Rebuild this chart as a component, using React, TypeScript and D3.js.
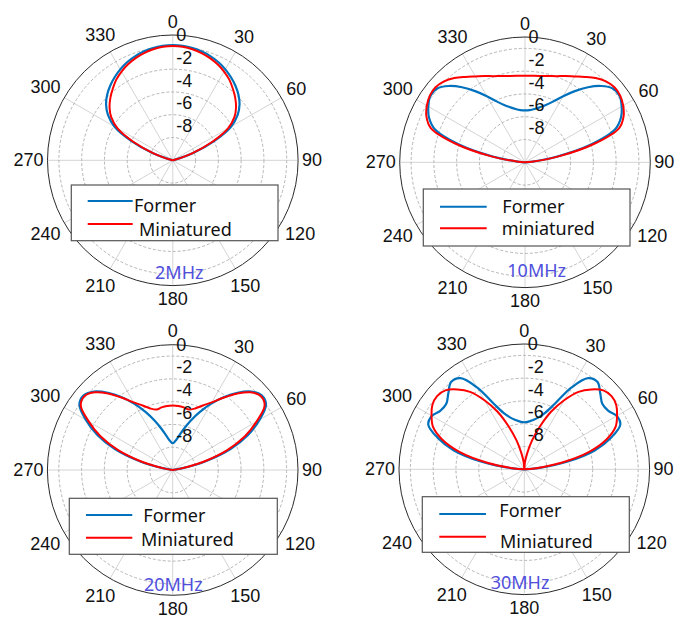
import React from 'react';
import * as d3 from 'd3';

// angle grid (degrees, 0 = top, clockwise)
const ANGLES = [-90, -85, -80, -75, -70, -65, -60, -55, -50, -45, -40, -35, -30, -25, -20, -15, -10, -5, 0,
  5, 10, 15, 20, 25, 30, 35, 40, 45, 50, 55, 60, 65, 70, 75, 80, 85, 90];

// dB values
const FORMER_2MHZ = [-11, -11, -11, -10.7, -9.1, -7.0, -5.1, -4.05, -3.35, -2.85, -2.45, -2.1, -1.78, -1.5, -1.29, -1.12, -0.99, -0.91, -0.88,
  -0.91, -0.99, -1.12, -1.29, -1.5, -1.78, -2.1, -2.45, -2.85, -3.35, -4.05, -5.1, -7.0, -9.1, -10.7, -11, -11, -11];
const MINI_2MHZ = [-11, -11, -11, -10.75, -9.2, -7.2, -5.4, -4.4, -3.75, -3.25, -2.8, -2.35, -2.0, -1.7, -1.45, -1.25, -1.1, -1.0, -0.97,
  -1.0, -1.1, -1.25, -1.45, -1.7, -2.0, -2.35, -2.8, -3.25, -3.75, -4.4, -5.4, -7.2, -9.2, -10.75, -11, -11, -11];

const FORMER_10MHZ = [-11, -10.5, -8.2, -5.0, -2.6, -1.7, -1.2, -0.85, -0.93, -1.53, -2.4, -3.37, -4.3, -5.1, -5.65, -6.0, -6.25, -6.4, -6.45,
  -6.4, -6.25, -6.0, -5.65, -5.1, -4.3, -3.37, -2.4, -1.53, -0.93, -0.85, -1.2, -1.7, -2.6, -5.0, -8.2, -10.5, -11];
const MINI_10MHZ = [-11, -10.4, -8.0, -4.7, -2.2, -1.45, -1.05, -0.8, -0.75, -0.95, -1.35, -1.85, -2.3, -2.65, -2.95, -3.15, -3.3, -3.38, -3.4,
  -3.38, -3.3, -3.15, -2.95, -2.65, -2.3, -1.85, -1.35, -0.95, -0.75, -0.8, -1.05, -1.45, -2.2, -4.7, -8.0, -10.4, -11];

const FORMER_20MHZ = [-11, -11, -10.2, -8.0, -5.6, -3.7, -2.2, -1.0, -0.8, -1.25, -2.15, -3.2, -4.3, -5.4, -6.4, -7.3, -8.0, -8.45, -8.65,
  -8.45, -8.0, -7.3, -6.4, -5.4, -4.3, -3.2, -2.15, -1.25, -0.8, -1.0, -2.2, -3.7, -5.6, -8.0, -10.2, -11, -11];
const MINI_20MHZ = [-11, -11, -10.3, -8.2, -5.9, -4.0, -2.5, -1.15, -0.9, -1.35, -2.25, -3.25, -4.15, -4.75, -5.25, -5.5, -5.42, -5.36, -5.34,
  -5.36, -5.42, -5.5, -5.25, -4.75, -4.15, -3.25, -2.25, -1.35, -0.9, -1.15, -2.5, -4.0, -5.9, -8.2, -10.3, -11, -11];

const FORMER_30MHZ = [-11, -9.8, -7.2, -4.6, -2.9, -1.7, -1.62, -2.02, -2.06, -1.57, -1.0, -1.23, -2.7, -4.65, -5.75, -6.3, -6.6, -6.8, -6.87,
  -6.8, -6.6, -6.3, -5.75, -4.65, -2.7, -1.23, -1.0, -1.57, -2.06, -2.02, -1.62, -1.7, -2.9, -4.6, -7.2, -9.8, -11];
const MINI_30MHZ = [-11, -10.1, -7.7, -5.1, -3.3, -2.15, -1.6, -1.15, -1.0, -1.2, -1.85, -2.7, -4.0, -5.4, -7.0, -8.4, -9.6, -10.4, -11,
  -10.4, -9.6, -8.4, -7.0, -5.4, -4.0, -2.7, -1.85, -1.2, -1.0, -1.15, -1.6, -2.15, -3.3, -5.1, -7.7, -10.1, -11];

const FREQS = ['2MHz', '10MHz', '20MHz', '30MHz'];
const FORMER_NAMES = ['Former', 'Former', 'Former', 'Former'];
const MINI_NAMES = ['Miniatured', 'miniatured', 'Miniatured', 'Miniatured'];

const R_TICKS = [-8, -6, -4, -2, 0];
const R_GRID = [-9, -7, -5, -3, -1];
const THETA_TICKS = [0, 30, 60, 90, 120, 150, 180, 210, 240, 270, 300, 330];
const R_DOMAIN = [-11, 0];

const FORMER = [FORMER_2MHZ, FORMER_10MHZ, FORMER_20MHZ, FORMER_30MHZ];
const MINI = [MINI_2MHZ, MINI_10MHZ, MINI_20MHZ, MINI_30MHZ];

// layout of each panel (pixels)
const LAYOUT = [
  { cx: 172.8, cy: 160.3, box: [71.3, 185, 206.7, 55.7], lineX: [87.7, 132.7], ly: [201, 224], tx: [134, 139], ty: [205, 228.7], fx: 179.3, fy: 271.7 },
  { cx: 525, cy: 162.3, box: [423.3, 189, 206.7, 57], lineX: [440, 486.7], ly: [206.7, 228.3], tx: [502.3, 501.7], ty: [205.7, 228.3], fx: 536.7, fy: 270 },
  { cx: 172.7, cy: 470, box: [69.3, 498.3, 208, 56], lineX: [86, 132.3], ly: [515, 537.7], tx: [143.3, 141], ty: [514.7, 538.7], fx: 173.3, fy: 584 },
  { cx: 524.3, cy: 469.3, box: [422.3, 496.7, 207, 55.6], lineX: [439.3, 486], ly: [514, 536.7], tx: [499.3, 500], ty: [510, 541], fx: 520, fy: 582.3 },
];

const R = 125.3;
const BLUE = '#0072BD';
const RED = '#FF0000';
const AXIS_FONT = "'Liberation Sans', Arial, sans-serif";
const TEXT_FONT = "'Noto Sans', 'Open Sans', sans-serif";

function PolarPanel({ idx }: { idx: number }) {
  const L = LAYOUT[idx];
  const rScale = d3.scaleLinear().domain(R_DOMAIN).range([0, R]).clamp(true);
  const toRad = (d: number) => (d * Math.PI) / 180;

  const line = d3.lineRadial<number>()
    .angle((d, i) => toRad(ANGLES[i]))
    .radius(d => rScale(d))
    .curve(d3.curveCatmullRom.alpha(0.5));

  const fs = 18;
  // label sits just outside the rim, pushed out by half its box in that direction
  const thetaLabel = (t: number) => {
    const a = toRad(t);
    const w = String(t).length * 0.556 * fs;
    const h = 0.72 * fs;
    const gap = 4 + 3 * Math.abs(Math.cos(a));
    const rr = R + gap + (w / 2) * Math.abs(Math.sin(a)) + (h / 2) * Math.abs(Math.cos(a));
    return { x: rr * Math.sin(a), y: -rr * Math.cos(a) };
  };

  return (
    <g>
      <g transform={`translate(${L.cx},${L.cy})`}>
        {/* grid */}
        {THETA_TICKS.map(t => (
          <line key={'s' + t} x1={0} y1={0} x2={R * Math.sin(toRad(t))} y2={-R * Math.cos(toRad(t))}
            stroke="#d4d4d4" strokeWidth={1} />
        ))}
        {R_GRID.map(v => (
          <circle key={'c' + v} r={rScale(v)} fill="none" stroke="#adadad" strokeWidth={0.9} strokeDasharray="3,2" />
        ))}
        <circle r={R} fill="none" stroke="#2b2b2b" strokeWidth={1} />

        {/* curves */}
        <path d={line(FORMER[idx]) || ''} fill="none" stroke={BLUE} strokeWidth={2.2} strokeLinejoin="round" />
        <path d={line(MINI[idx]) || ''} fill="none" stroke={RED} strokeWidth={2} strokeLinejoin="round" />

        {/* radial tick labels */}
        {R_TICKS.map(v => (
          <text key={'r' + v} x={3.5} y={-rScale(v)} dominantBaseline="central" fontSize={fs}
            fontFamily={AXIS_FONT} fill="#111">{v}</text>
        ))}

        {/* angle labels */}
        {THETA_TICKS.map(t => {
          const p = thetaLabel(t);
          return (
            <text key={'t' + t} x={p.x} y={p.y} textAnchor="middle" dominantBaseline="central"
              fontSize={fs} fontFamily={AXIS_FONT} fill="#111">{t}</text>
          );
        })}
      </g>

      {/* legend */}
      <rect x={L.box[0]} y={L.box[1]} width={L.box[2]} height={L.box[3]} fill="#fff" stroke="#555" strokeWidth={1.2} />
      <line x1={L.lineX[0]} x2={L.lineX[1]} y1={L.ly[0]} y2={L.ly[0]} stroke={BLUE} strokeWidth={2} />
      <line x1={L.lineX[0]} x2={L.lineX[1]} y1={L.ly[1]} y2={L.ly[1]} stroke={RED} strokeWidth={2} />
      <text x={L.tx[0]} y={L.ty[0]} dominantBaseline="central" fontSize={18} fontFamily={TEXT_FONT} fill="#111">{FORMER_NAMES[idx]}</text>
      <text x={L.tx[1]} y={L.ty[1]} dominantBaseline="central" fontSize={18} fontFamily={TEXT_FONT} fill="#111">{MINI_NAMES[idx]}</text>

      {/* frequency */}
      <text x={L.fx} y={L.fy} textAnchor="middle" dominantBaseline="central" fontSize={18}
        fontFamily={TEXT_FONT} fill="#5050dc">{FREQS[idx]}</text>
    </g>
  );
}

export default function App() {
  return (
    <svg width={675} height={619} style={{ position: 'absolute', left: 0, top: 0, background: '#fff' }}>
      <rect width={675} height={619} fill="#fff" />
      {FREQS.map((f, i) => <PolarPanel key={f} idx={i} />)}
    </svg>
  );
}
